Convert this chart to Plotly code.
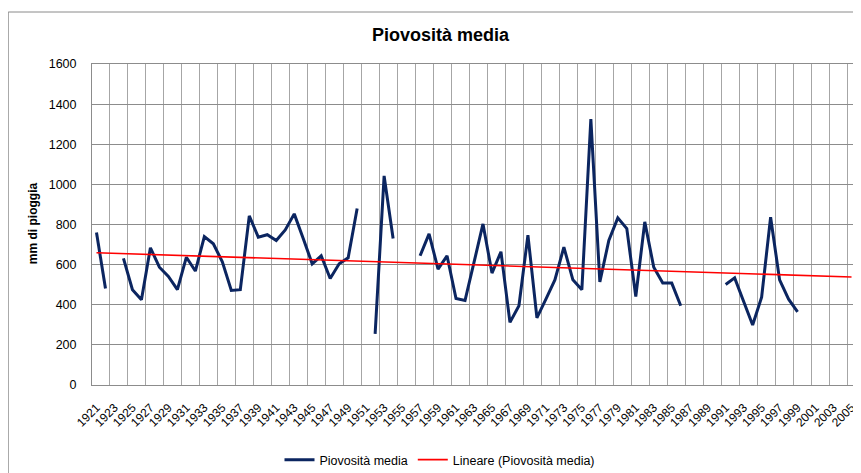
import numpy as np
import plotly.graph_objects as go

years = list(range(1921, 2006))
rain = [
    760, 481, None, 631, 475, 425, 684, 587, 541, 475,      # 1921-1930
    637, 568, 740, 704, 614, 471, 475, 843, 737, 749,       # 1931-1940
    720, 773, 853, 730, 604, 644, 531, 604, 634, 880,       # 1941-1950
    None, 255, 1042, 730, None, None, 644, 753, 578, 644,   # 1951-1960
    431, 421, 611, 803, 558, 664, 312, 395, 747, 335,       # 1961-1970
    428, 524, 687, 524, 475, 1325, 514, 720, 833, 780,      # 1971-1980
    441, 813, 587, 508, 508, 395, None, None, None, None,   # 1981-1990
    501, 534, 416, 299, 438, 836, 524, 428, 365, None,      # 1991-2000
    None, None, None, None, None,                           # 2001-2005
]
tick_years = list(range(1921, 2006, 2))
y_ticks = list(range(0, 1601, 200))

# linear trend (least squares) over available years, drawn over the full axis
xs = np.array([y for y, v in zip(years, rain) if v is not None], dtype=float)
vs = np.array([v for v in rain if v is not None], dtype=float)
slope, intercept = np.polyfit(xs, vs, 1)
trend = [slope * y + intercept for y in years]

# page is offset by the default 8px body margin
OFF = 8
W, H = 861 - OFF, 473 - OFF
L, R, T, B = 84, 3, 56, 88
pw = W - L - R
ph = H - T - B

def px_x(p):  # page pixel -> paper x
    return (p - OFF - L) / pw

def px_y(p):  # page pixel -> paper y
    return 1 + (T - (p - OFF)) / ph

fig = go.Figure()
fig.add_trace(go.Scatter(
    x=years, y=rain, mode="lines", name="Piovosità media",
    line=dict(color="#0B2560", width=3), connectgaps=False,
))
fig.add_trace(go.Scatter(
    x=years, y=trend, mode="lines", name="Lineare (Piovosità media)",
    line=dict(color="#FF0000", width=1.6),
))

font_family = "Liberation Sans, Arial, sans-serif"

fig.update_layout(
    width=W, height=H,
    margin=dict(l=L, r=R, t=T, b=B),
    paper_bgcolor="white", plot_bgcolor="white",
    font=dict(family=font_family, color="#000000"),
    showlegend=True,
    legend=dict(
        orientation="h", xref="container", yref="container",
        x=(440 - OFF) / W, y=(H - (460 - OFF)) / H,
        xanchor="center", yanchor="middle",
        font=dict(size=12.5, family=font_family), itemwidth=30,
        bgcolor="rgba(0,0,0,0)",
    ),
    xaxis=dict(
        range=[1920.5, 2005.5], tickmode="array", tickvals=tick_years,
        ticktext=[str(t) for t in tick_years], tickangle=-45,
        tickfont=dict(size=12, family=font_family),
        showgrid=False, zeroline=False,
        showline=True, linecolor="#8c8c8c", linewidth=1, mirror=True,
        ticks="outside", ticklen=10, tickcolor="rgba(0,0,0,0)",
        minor=dict(tick0=1920.5, dtick=2, showgrid=True,
                   gridcolor="#a6a6a6", gridwidth=1, ticks=""),
    ),
    yaxis=dict(
        range=[0, 1600], tickmode="array", tickvals=y_ticks,
        tickfont=dict(size=12.5, family=font_family),
        showgrid=True, gridcolor="#8c8c8c", gridwidth=1, zeroline=False,
        showline=True, linecolor="#8c8c8c", linewidth=1, mirror=True,
        ticks="outside", ticklen=12, tickcolor="rgba(0,0,0,0)",
    ),
    annotations=[
        dict(text="<b>Piovosità media</b>", xref="paper", yref="paper",
             x=px_x(442), y=px_y(35), xanchor="center", yanchor="middle",
             showarrow=False, font=dict(size=18, family=font_family)),
        dict(text="<b>mm di pioggia</b>", xref="paper", yref="paper",
             x=px_x(33), y=px_y(223), xanchor="center", yanchor="middle",
             textangle=-90, showarrow=False,
             font=dict(size=12, family=font_family)),
    ],
    shapes=[
        dict(type="rect", xref="paper", yref="paper",
             x0=px_x(8), x1=px_x(861 + 20), y0=px_y(473 + 20), y1=px_y(12),
             line=dict(color="#8a8a8a", width=1), fillcolor="rgba(0,0,0,0)",
             layer="below"),
    ],
)

fig.write_html("out.html")
